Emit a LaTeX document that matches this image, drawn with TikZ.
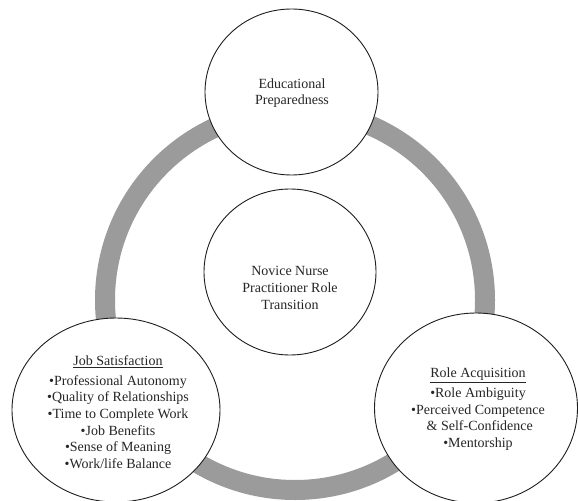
\documentclass[tikz,border=0pt]{standalone}
\usepackage{fontspec}
\setmainfont{Liberation Serif}
\usetikzlibrary{shapes.geometric}
\definecolor{ringgray}{RGB}{155,155,155}
\definecolor{linecol}{RGB}{30,30,30}
\tikzset{
  bubble/.style={ellipse, draw=linecol, line width=0.9bp, fill=white, inner sep=0pt},
  txt/.style={align=center, inner sep=0pt, text=black!85, font=\fontsize{14bp}{16.6bp}\selectfont},
  ring/.style={draw=ringgray, line width=20bp}
}
\begin{document}
\begin{tikzpicture}[x=1bp, y=-1bp]
\useasboundingbox (0,0) rectangle (578,501);
\coordinate (rc) at (295,300);
\draw[ring] (rc) circle[radius=190bp];
\node[bubble, minimum width=173bp, minimum height=166bp] (top) at (291.5,92) {};
\node[bubble, minimum width=172bp, minimum height=166bp] (mid) at (290,272) {};
\node[bubble, minimum width=208bp, minimum height=184bp] (left) at (116,410) {};
\node[bubble, minimum width=203bp, minimum height=190bp] (right) at (476,408) {};
\node[txt] (ttop) at (292,93) {Educational\\Preparedness};
\node[txt] (tmid) at (290,288) {Novice Nurse\\Practitioner Role\\Transition};
\node[txt] (tleft) at (118,412) {\underline{Job Satisfaction}\\[3.4bp]%
  •Professional Autonomy\\•Quality of Relationships\\•Time to Complete Work\\%
  •Job Benefits\\•Sense of Meaning\\•Work/life Balance};
\node[txt] (tright) at (478,409) {\underline{Role Acquisition}\\[3.4bp]%
  •Role Ambiguity\\•Perceived Competence\\\ \& Self-Confidence\\•Mentorship};
\end{tikzpicture}
\end{document}
